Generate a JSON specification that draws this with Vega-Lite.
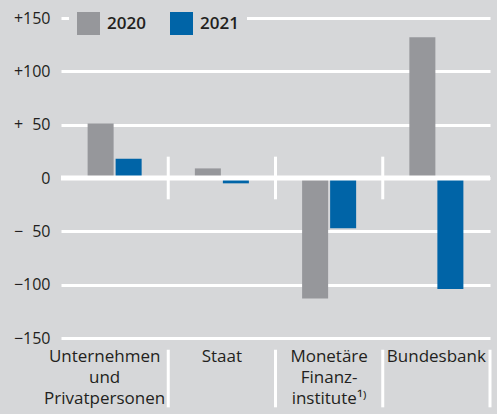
{
  "$schema": "https://vega.github.io/schema/vega-lite/v6.json",
  "width": 429,
  "height": 320,
  "autosize": {"type": "none"},
  "padding": {"left": 61, "top": 18, "right": 7, "bottom": 76},
  "background": "#d6d7d9",
  "config": {
    "view": {"stroke": null},
    "font": "Open Sans",
    "axis": {"labelColor": "#231f20", "domain": false, "ticks": false, "title": null}
  },
  "datasets": {
    "bars": [
      {"cat": "Unternehmen|und|Privatpersonen", "year": "2020", "value": 51},
      {"cat": "Unternehmen|und|Privatpersonen", "year": "2021", "value": 18},
      {"cat": "Staat", "year": "2020", "value": 9},
      {"cat": "Staat", "year": "2021", "value": -5},
      {"cat": "Monetäre|Finanz-|institute¹⁾", "year": "2020", "value": -113},
      {"cat": "Monetäre|Finanz-|institute¹⁾", "year": "2021", "value": -47},
      {"cat": "Bundesbank", "year": "2020", "value": 132},
      {"cat": "Bundesbank", "year": "2021", "value": -104}
    ],
    "seps": [
      {"cat": "Unternehmen|und|Privatpersonen", "y1": 20, "y2": -20},
      {"cat": "Staat", "y1": 20, "y2": -20},
      {"cat": "Monetäre|Finanz-|institute¹⁾", "y1": 20, "y2": -20},
      {"cat": "Unternehmen|und|Privatpersonen", "y1": -161, "y2": -215},
      {"cat": "Staat", "y1": -161, "y2": -215},
      {"cat": "Monetäre|Finanz-|institute¹⁾", "y1": -161, "y2": -215},
      {"cat": "Bundesbank", "y1": -161, "y2": -215}
    ],
    "zero": [{"v": 0}]
  },
  "layer": [
    {
      "data": {"name": "bars"},
      "mark": {"type": "bar", "clip": false},
      "encoding": {
        "x": {
          "field": "cat", "type": "nominal",
          "scale": {"domain": ["Unternehmen|und|Privatpersonen", "Staat", "Monetäre|Finanz-|institute¹⁾", "Bundesbank"], "paddingInner": 0, "paddingOuter": 0},
          "axis": {"labelExpr": "split(datum.label, '|')", "labelAngle": 0, "labelPadding": 10, "labelFontSize": 17, "labelLineHeight": 21, "labelLimit": 0, "labelOverlap": false, "grid": false,
            "labelOffset": {"condition": {"test": "datum.value == 'Unternehmen|und|Privatpersonen'", "value": -10}, "value": 0}}
        },
        "xOffset": {"field": "year", "type": "nominal", "scale": {"paddingInner": 0.0714, "paddingOuter": 0.95}},
        "y": {
          "field": "value", "type": "quantitative",
          "scale": {"domain": [-150, 150], "nice": false},
          "axis": {"values": [-150, -100, -50, 0, 50, 100, 150], "labelExpr": "datum.value == 0 ? '0' : (datum.value > 0 ? '+' : '−') + (abs(datum.value) < 100 ? '\u2007' : '') + abs(datum.value)", "labelPadding": 11, "labelFontSize": 16, "grid": true, "gridColor": "white", "gridWidth": 3, "gridOpacity": 1}
        },
        "color": {
          "field": "year", "type": "nominal",
          "scale": {"domain": ["2020", "2021"], "range": ["#96979b", "#0064a7"]},
          "legend": {"orient": "none", "legendX": 8, "legendY": -14, "direction": "horizontal", "title": null, "symbolType": "square", "symbolSize": 529, "symbolStrokeWidth": 0, "symbolOpacity": 1, "labelFontSize": 17, "labelFontWeight": 600, "labelColor": "#231f20", "labelOffset": 7, "columnPadding": 24, "fillColor": "#d6d7d9", "padding": 8}
        }
      }
    },
    {
      "data": {"name": "zero"},
      "mark": {"type": "rule", "color": "white", "strokeWidth": 5},
      "encoding": {"y": {"field": "v", "type": "quantitative"}}
    },
    {
      "data": {"name": "seps"},
      "mark": {"type": "rule", "color": "white", "strokeWidth": 3, "clip": false},
      "encoding": {
        "x": {"field": "cat", "type": "nominal", "bandPosition": 1},
        "y": {"field": "y1", "type": "quantitative"},
        "y2": {"field": "y2"}
      }
    }
  ]
}
